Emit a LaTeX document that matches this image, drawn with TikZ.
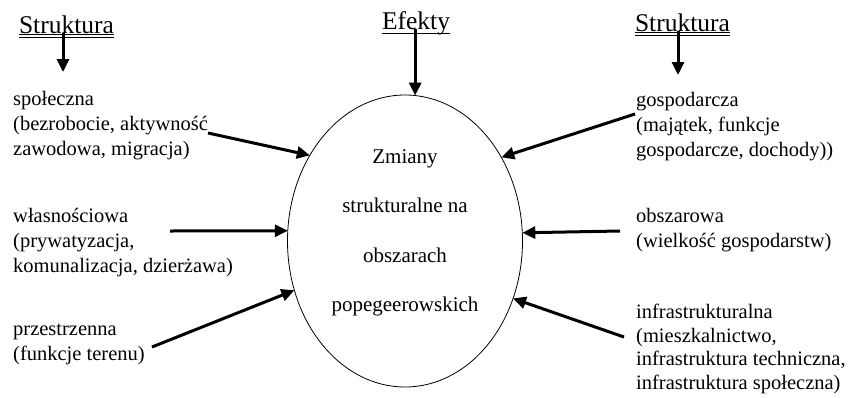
\documentclass[tikz,border=0pt]{standalone}
\usepackage{fontspec}
\setmainfont{Liberation Serif}
\usetikzlibrary{arrows.meta, shapes.geometric, calc}

\begin{document}
\begin{tikzpicture}[x=1pt, y=-1pt,
    ARR/.style={-{Triangle[length=13pt,width=12pt]}, line width=3pt},
    HDR/.style={inner sep=0pt, anchor=base, font=\fontsize{25.5}{30}\selectfont},
    TXT/.style={inner sep=0pt, anchor=north west, align=left, font=\fontsize{20.5}{25}\selectfont},
    ULN/.style={line width=0.9pt}]
    \useasboundingbox[fill=white] (0,0) rectangle (856,397);

    % headings
    \node[HDR] (strL) at (66.5,33) {Struktura};
    \node[HDR] (ef) at (416,29) {Efekty};
    \node[HDR] (strR) at (682.5,31) {Struktura};
    \draw[ULN] ($(strL.base west)+(0,1.5)$) -- ($(strL.base east)+(0,1.5)$);
    \draw[ULN] ($(strL.base west)+(0,4.8)$) -- ($(strL.base east)+(0,4.8)$);
    \draw[ULN] ($(strR.base west)+(0,1.5)$) -- ($(strR.base east)+(0,1.5)$);
    \draw[ULN] ($(strR.base west)+(0,4.5)$) -- ($(strR.base east)+(0,4.5)$);
    \draw[ULN] ($(ef.base west)+(0,4)$) -- ($(ef.base east)+(0,4)$);

    % centre
    \node[ellipse, draw, line width=0.8pt, minimum width=235pt, minimum height=292pt,
        inner sep=0pt, outer sep=0pt] (ell) at (405,241) {};
    \node[inner sep=0pt, anchor=north, align=center, font=\fontsize{21}{49.6}\selectfont]
        (zm) at (405,149) {Zmiany\\strukturalne na\\obszarach\\popegeerowskich};

    % left side
    \node[TXT] (spo) at (13,91) {społeczna\\(bezrobocie, aktywność\\zawodowa, migracja)};
    \node[TXT] (wla) at (13,208) {własnościowa\\(prywatyzacja,\\komunalizacja, dzierżawa)};
    \node[TXT] (prz) at (13,324) {przestrzenna\\(funkcje terenu)};

    % right side
    \node[TXT] (gos) at (636,92) {gospodarcza\\(majątek, funkcje\\gospodarcze, dochody))};
    \node[TXT] (obs) at (636,208) {obszarowa\\(wielkość gospodarstw)};
    \node[TXT, font=\fontsize{20.5}{23.5}\selectfont] (inf) at (636,304)
        {infrastrukturalna\\(mieszkalnictwo,\\infrastruktura techniczna,\\infrastruktura społeczna)};

    \coordinate (strLtip) at (63,72);
    \coordinate (strRtip) at (678,75);
    \coordinate (spoS) at (208,133);
    \coordinate (wlaS) at (170,231);
    \coordinate (przS) at (152,347);
    \coordinate (gosS) at (635,114);
    \coordinate (obsS) at (620,231);
    \coordinate (infS) at (624,337);

    \draw[ARR] (strL.base -| strLtip) -- (strLtip);
    \draw[ARR] (strR.base -| strRtip) -- (strRtip);
    \draw[ARR] (ef.base -| ell.86.5) -- (ell.86.5);
    \draw[ARR] (spoS) -- (ell.138.7);
    \draw[ARR] (wlaS) -- (ell.175);
    \draw[ARR] (przS) -- (ell.204.8);
    \draw[ARR] (gosS) -- (ell.41.9);
    \draw[ARR] (obsS) -- (ell.4.8);
    \draw[ARR] (infS) -- (ell.332.8);
\end{tikzpicture}
\end{document}
